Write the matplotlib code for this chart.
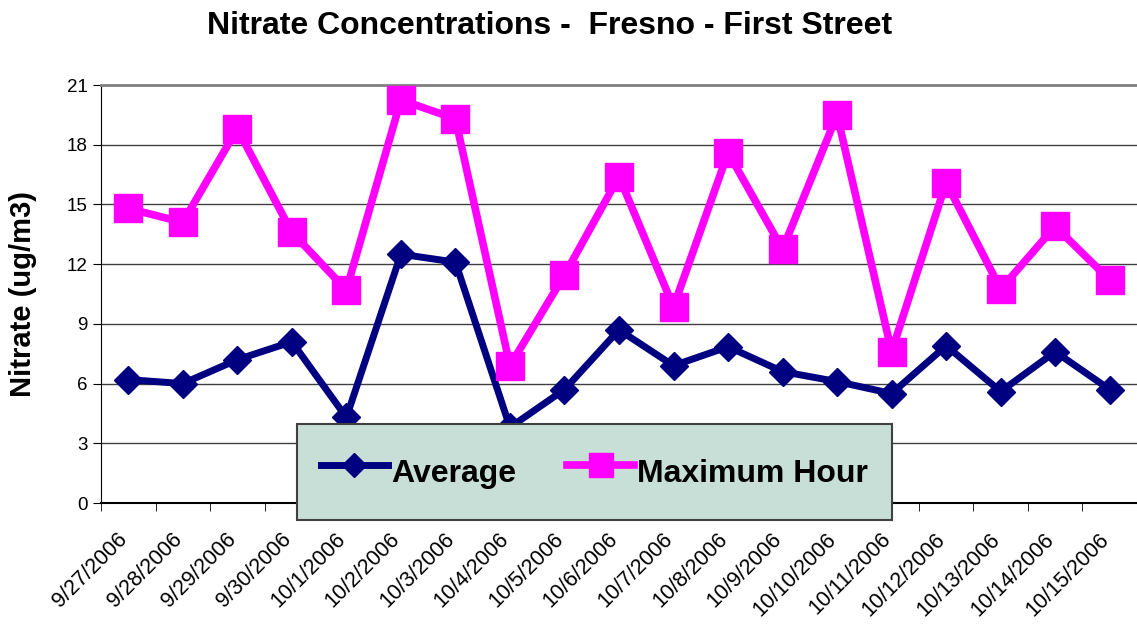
import matplotlib
matplotlib.use("Agg")
import matplotlib.pyplot as plt
import matplotlib.transforms as mtransforms
import numpy as np

plt.rcParams['font.family'] = ['Liberation Sans', 'DejaVu Sans']

### Data
dates = ["9/27/2006", "9/28/2006", "9/29/2006", "9/30/2006", "10/1/2006",
         "10/2/2006", "10/3/2006", "10/4/2006", "10/5/2006", "10/6/2006",
         "10/7/2006", "10/8/2006", "10/9/2006", "10/10/2006", "10/11/2006",
         "10/12/2006", "10/13/2006", "10/14/2006", "10/15/2006"]
average = [6.2, 6.0, 7.2, 8.1, 4.3, 12.5, 12.1, 3.8, 5.7, 8.7,
           6.9, 7.85, 6.6, 6.1, 5.5, 7.9, 5.6, 7.6, 5.7]
max_hour = [14.8, 14.1, 18.8, 13.6, 10.7, 20.25, 19.3, 6.9, 11.45, 16.4,
            9.85, 17.6, 12.75, 19.5, 7.6, 16.1, 10.75, 13.9, 11.2]
yticks = [0, 3, 6, 9, 12, 15, 18, 21]

### Figure
fig = plt.figure(figsize=(11.37, 6.30), dpi=100)
ax = fig.add_axes([101/1137, 1 - 503/630, 1036/1137, 418/630])

x = np.arange(len(dates))
ax.plot(x, average, color='#000080', lw=5, marker='D', markersize=14,
        label='Average', zorder=3)
ax.plot(x, max_hour, color='#FF00FF', lw=5.5, marker='s', markersize=19.5,
        label='Maximum Hour', zorder=3)

ax.set_xlim(-0.5, len(dates) - 0.5)
ax.set_ylim(0, 21)
ax.set_yticks(yticks)
ax.set_yticklabels([str(v) for v in yticks], fontsize=13.5)

# category labels at centres, tick marks at boundaries
ax.set_xticks(x)
ax.set_xticklabels(dates, rotation=45, ha='right', va='center',
                   rotation_mode='anchor', fontsize=15.5)
ax.set_xticks(np.arange(len(dates) + 1) - 0.5, minor=True)
ax.tick_params(axis='x', which='major', length=0, pad=24)
ax.tick_params(axis='x', which='minor', length=6, direction='out', color='black')
ax.tick_params(axis='y', length=6, direction='out', color='black')
shift = mtransforms.ScaledTranslation(-4/100, 0, fig.dpi_scale_trans)
for lab in ax.get_xticklabels():
    lab.set_transform(lab.get_transform() + shift)

ax.grid(True, axis='y', color='#404040', lw=1)
ax.set_axisbelow(True)
ax.spines['right'].set_visible(False)
ax.spines['top'].set_color('#808080')
ax.spines['top'].set_linewidth(2)
ax.spines['left'].set_color('black')
ax.spines['bottom'].set_color('black')
ax.spines['bottom'].set_linewidth(1.5)

ax.set_ylabel("Nitrate (ug/m3)", fontsize=21, fontweight='bold')
ax.yaxis.set_label_coords(-64/1036, 0.5)
fig.text(550/1137, 1 - 26/630, "Nitrate Concentrations -  Fresno - First Street",
         fontsize=23, fontweight='bold', ha='center', va='center')

leg = ax.legend(loc='center', bbox_to_anchor=(296/1137, 1 - 523/630, 597/1137, 102/630),
                bbox_transform=fig.transFigure, ncol=2, frameon=True, fancybox=False,
                prop={'weight': 'bold', 'size': 23}, handlelength=2.1,
                handleheight=1.9, handletextpad=0.1, columnspacing=1.6,
                borderpad=0.75, markerscale=0.9)
leg.get_frame().set_facecolor('#C8DFD8')
leg.get_frame().set_edgecolor('#404040')
leg.get_frame().set_linewidth(1.5)
leg.get_frame().set_alpha(1)
leg.set_zorder(5)

fig.savefig("out.png", dpi=100)
